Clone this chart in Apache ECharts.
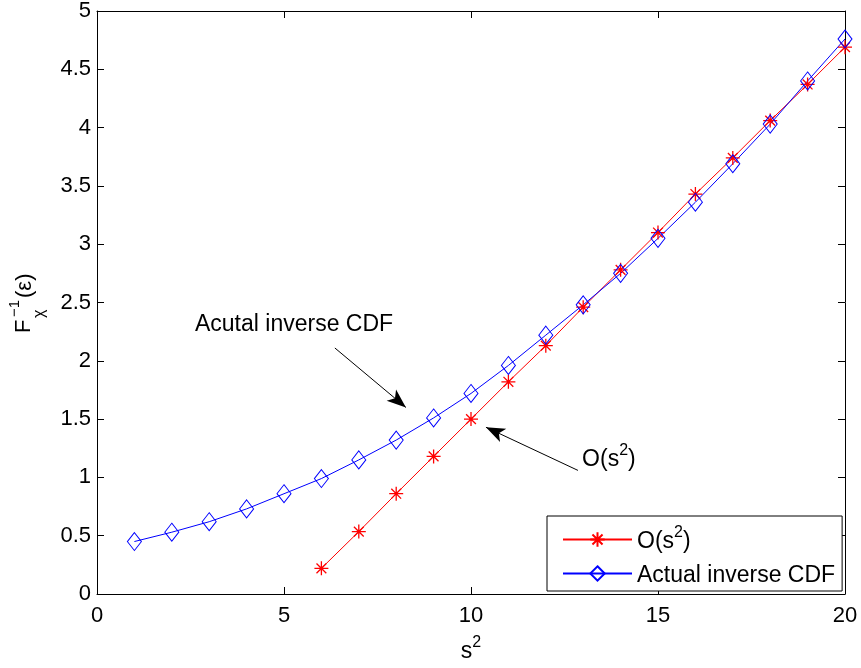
<!DOCTYPE html>
<html>
<head>
<meta charset="utf-8">
<script src="https://cdn.jsdelivr.net/npm/echarts@6/dist/echarts.min.js"></script>
<style>
html, body { margin: 0; padding: 0; background: #fff; }
#chart { width: 861px; height: 668px; }
</style>
</head>
<body>
<div id="chart"></div>
<script>
// s^2 values
const actualX = [1, 2, 3, 4, 5, 6, 7, 8, 9, 10, 11, 12, 13, 14, 15, 16, 17, 18, 19, 20]
const actualInv = [0.45, 0.53, 0.62, 0.73, 0.86, 0.99, 1.15, 1.32, 1.51, 1.72, 1.96, 2.22, 2.48, 2.75, 3.05, 3.36, 3.69, 4.03, 4.40, 4.76]
const orderX = [6, 7, 8, 9, 10, 11, 12, 13, 14, 15, 16, 17, 18, 19, 20]
const orderVals = [0.22, 0.535, 0.86, 1.18, 1.50, 1.82, 2.13, 2.46, 2.78, 3.10, 3.43, 3.74, 4.06, 4.37, 4.69]

// annotation arrows, in data coords [from, to]
const arrowCdf = [[6.36, 2.11], [8.26, 1.60]]
const arrowOrder = [[12.86, 1.06], [10.40, 1.43]]
const noteCdfAt = [2.62, 2.31]
const noteOrderAt = [12.97, 1.17]

const FONT = 'Liberation Sans, Arial, Helvetica, sans-serif'
const tickFont = { fontFamily: FONT, fontSize: 22, color: '#000' }
const supRich = {
  n: { fontFamily: FONT, fontSize: 23, lineHeight: 27, color: '#000', verticalAlign: 'bottom' },
  sup: { fontFamily: FONT, fontSize: 16, lineHeight: 16, color: '#000', verticalAlign: 'bottom', padding: [0, 0, 12, 0] }
}

const chart = echarts.init(document.getElementById('chart'))

const axisBase = {
  type: 'value',
  axisLine: { show: true, onZero: false, lineStyle: { color: '#000', width: 1 } },
  axisTick: { show: true, inside: true, length: 7, lineStyle: { color: '#000', width: 1 } },
  splitLine: { show: false }
}

const option = {
  animation: false,
  backgroundColor: '#fff',
  grid: { left: 97, top: 10, width: 748, height: 589 },
  xAxis: [
    {
      ...axisBase,
      position: 'bottom',
      min: 0, max: 20, interval: 5,
      axisLabel: { ...tickFont, margin: 11 },
      name: '{n|s}{sup|2}',
      nameLocation: 'middle',
      nameGap: 42,
      nameTextStyle: { rich: supRich }
    },
    {
      ...axisBase,
      position: 'top',
      min: 0, max: 20, interval: 5,
      axisLabel: { show: false }
    }
  ],
  yAxis: [
    {
      ...axisBase,
      position: 'left',
      min: 0, max: 5, interval: 0.5,
      axisLabel: { ...tickFont, margin: 6 }
    },
    {
      ...axisBase,
      position: 'right',
      min: 0, max: 5, interval: 0.5,
      axisLabel: { show: false }
    }
  ],
  legend: {
    orient: 'vertical',
    left: 547,
    top: 516,
    backgroundColor: '#fff',
    borderColor: '#000',
    borderWidth: 1,
    borderRadius: 0,
    padding: [9, 7, 4, 15],
    itemWidth: 69,
    itemHeight: 18,
    itemGap: 11,
    itemTextGap: 7,
    data: ['O(s^2)', 'Actual inverse CDF'],
    formatter: (name) => (name === 'O(s^2)' ? '{n|O(s}{sup|2}{n|)}' : '{n|' + name + '}'),
    textStyle: { rich: supRich }
  },
  series: [
    {
      name: 'O(s^2)',
      type: 'line',
      data: orderX.map((x, i) => [x, orderVals[i]]),
      symbol: 'path://M10,0L10,20M0,10L20,10M3,3L17,17M3,17L17,3',
      symbolSize: 14,
      color: '#ff0000',
      itemStyle: { color: 'rgba(0,0,0,0)', borderColor: '#ff0000', borderWidth: 1.3 },
      lineStyle: { color: '#ff0000', width: 1 },
      markLine: {
        silent: true,
        symbol: ['none', 'arrow'],
        symbolSize: [11, 19],
        label: { show: false },
        lineStyle: { color: '#000', width: 1, type: 'solid' },
        emphasis: { disabled: true },
        data: [
          [{ coord: arrowCdf[0] }, { coord: arrowCdf[1] }],
          [{ coord: arrowOrder[0] }, { coord: arrowOrder[1] }]
        ]
      }
    },
    {
      name: 'Actual inverse CDF',
      type: 'line',
      data: actualX.map((x, i) => [x, actualInv[i]]),
      symbol: 'diamond',
      symbolSize: [14, 18],
      color: '#0000ff',
      itemStyle: { color: 'rgba(0,0,0,0)', borderColor: '#0000ff', borderWidth: 1 },
      lineStyle: { color: '#0000ff', width: 1 }
    }
  ]
}

chart.setOption(option)

// annotations and y label, placed from data coords
const toPx = (pt) => chart.convertToPixel({ xAxisIndex: 0, yAxisIndex: 0 }, pt)
const c1 = toPx(noteCdfAt)
const c2 = toPx(noteOrderAt)
const txt = (x, y, text, size) => ({
  type: 'text', x: x, y: y,
  style: { text: text, fontFamily: FONT, fontSize: size, fill: '#000', align: 'left', verticalAlign: 'middle' }
})

chart.setOption({
  graphic: [
    txt(c1[0], c1[1], 'Acutal inverse CDF', 23),
    {
      type: 'text', x: c2[0], y: c2[1],
      style: { text: '{n|O(s}{sup|2}{n|)}', rich: supRich, align: 'left', verticalAlign: 'middle' }
    },
    {
      // F_chi^-1(eps), rotated
      type: 'group',
      x: 24, y: 333,
      rotation: Math.PI / 2,
      children: [
        txt(0, 0, 'F', 22),
        txt(16, -9, '\u22121', 15),
        txt(15, 16, '\u03c7', 16),
        txt(35, 1, '(\u03b5)', 22)
      ]
    }
  ]
})
</script>
</body>
</html>
